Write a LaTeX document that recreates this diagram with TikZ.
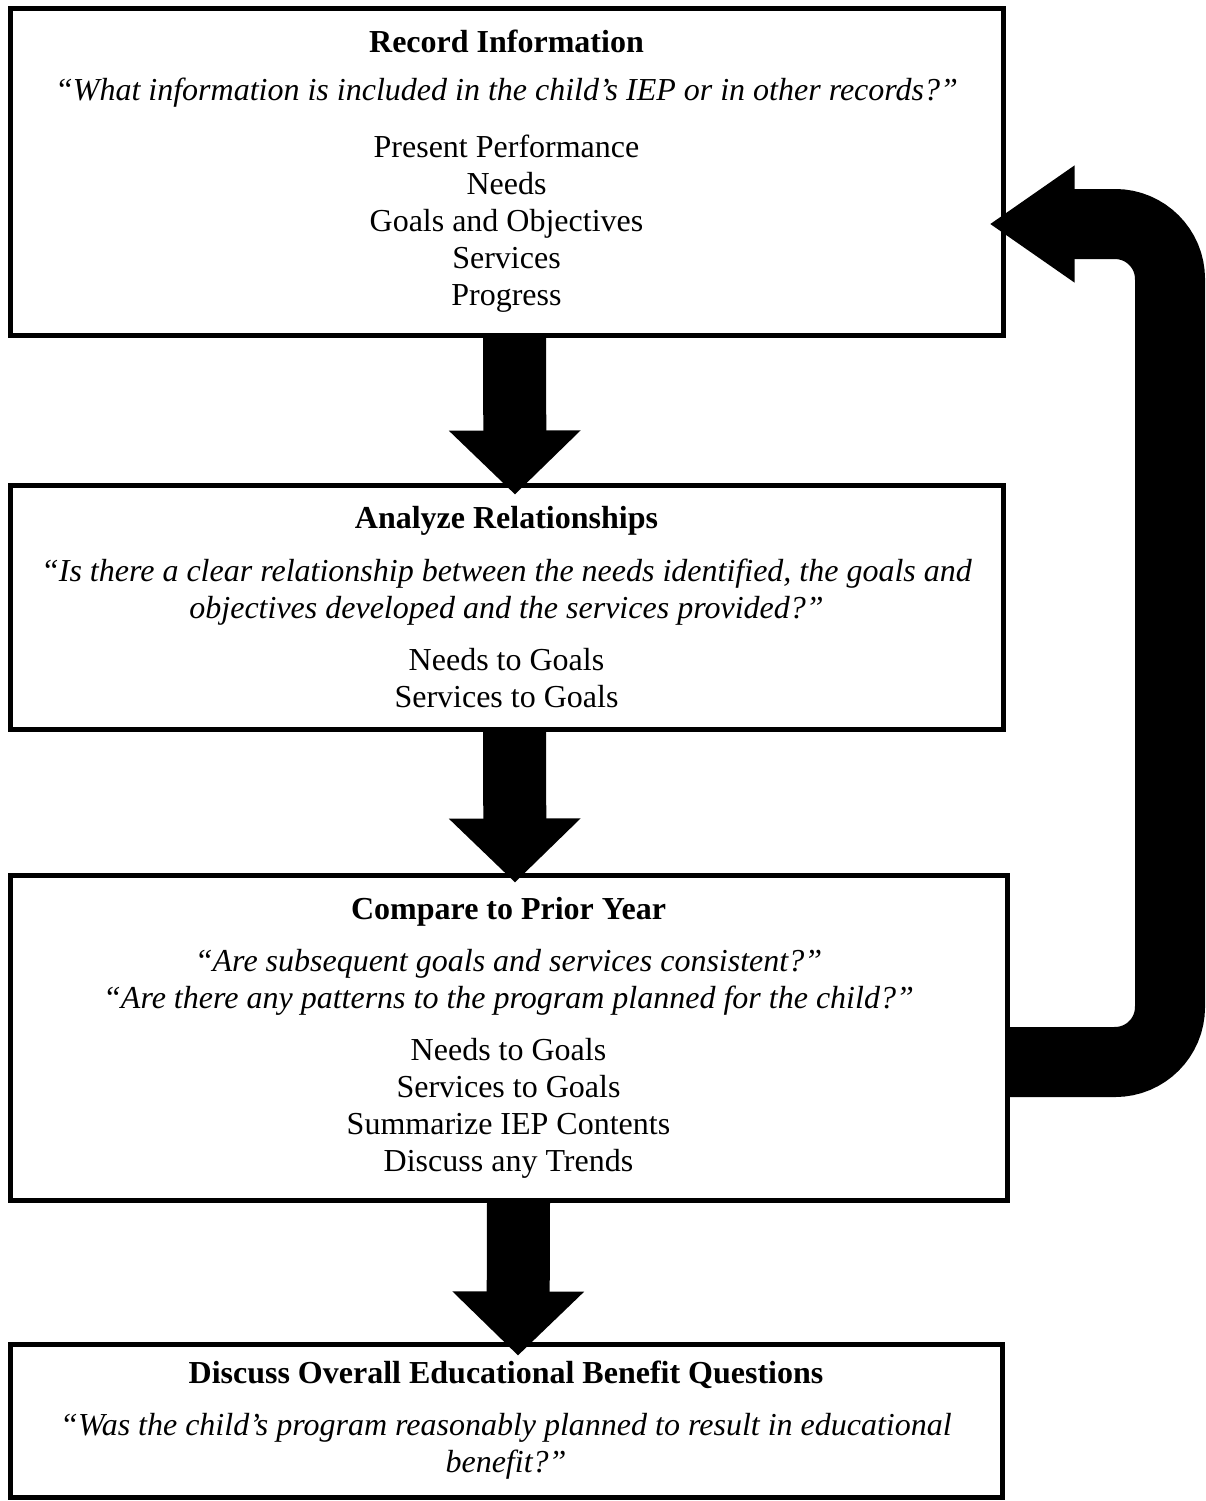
\documentclass[tikz,border=0pt]{standalone}
\usepackage{fontspec}
\setmainfont{Liberation Serif}
\usetikzlibrary{arrows.meta}

\begin{document}
\begin{tikzpicture}[x=0.5pt,y=-0.5pt,
  box/.style={draw,line width=2.5pt,align=center,inner sep=0pt,
    font=\fontsize{16}{18.5}\selectfont},
  downarrow/.style={line width=31.5pt,-{Triangle[width=64pt,length=32pt]}},
  feedback/.style={line width=35pt,rounded corners=27.5pt,
    -{Triangle[width=55.5pt,length=42.5pt]}}]
\useasboundingbox (0,0) rectangle (1206,1501);

\node[box,minimum width=496.5pt,minimum height=163.5pt] (record) at (506.5,171.5)
  {\textbf{Record Information}\\[5.5pt]
   \textit{“What information is included in the child’s IEP or in other records?”}\\[10pt]
   Present Performance\\ Needs\\ Goals and Objectives\\ Services\\ Progress};

\node[box,minimum width=496.5pt,minimum height=122pt] (analyze) at (506.5,607)
  {\textbf{Analyze Relationships}\\[8pt]
   \textit{“Is there a clear relationship between the needs identified, the goals and}\\
   \textit{objectives developed and the services provided?”}\\[7.5pt]
   Needs to Goals\\ Services to Goals};

\node[box,minimum width=498.5pt,minimum height=162.5pt] (compare) at (508.5,1037.5)
  {\textbf{Compare to Prior Year}\\[7.5pt]
   \textit{“Are subsequent goals and services consistent?”}\\
   \textit{“Are there any patterns to the program planned for the child?”}\\[7.5pt]
   Needs to Goals\\ Services to Goals\\ Summarize IEP Contents\\ Discuss any Trends};

\node[box,minimum width=496pt,minimum height=76.5pt] (discuss) at (506,1420.5)
  {\textbf{Discuss Overall Educational Benefit Questions}\\[7.5pt]
   \textit{“Was the child’s program reasonably planned to result in educational}\\
   \textit{benefit?”}};

% arrows between the steps
\draw[downarrow] ([xshift=4pt]record.south) -- ([xshift=4.25pt,yshift=-6pt]analyze.north);
\draw[downarrow] ([xshift=4pt]analyze.south) -- ([xshift=3.25pt,yshift=-5pt]compare.north);
\draw[downarrow] ([xshift=5pt]compare.south) -- ([xshift=6pt,yshift=-7pt]discuss.north);

% loop back to the first step
\coordinate (loop) at (1170,224);
\draw[feedback] ([yshift=-12.25pt]compare.east) -| (loop) -- ([xshift=-8pt,yshift=-26.25pt]record.east);
\end{tikzpicture}
\end{document}
